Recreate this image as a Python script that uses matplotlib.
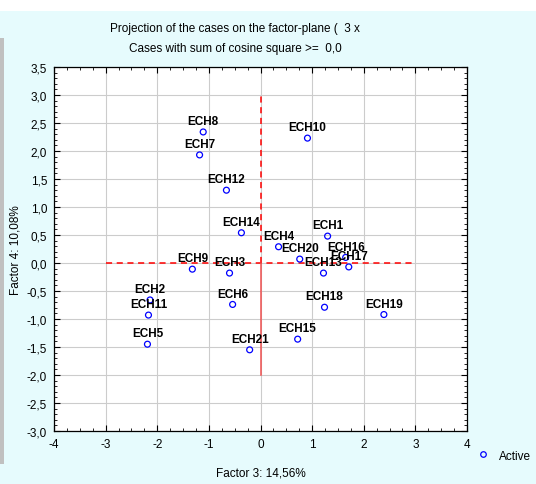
import matplotlib
matplotlib.use("Agg")
import matplotlib.pyplot as plt
from matplotlib.ticker import MultipleLocator, FuncFormatter
from matplotlib.patches import Rectangle
from matplotlib.lines import Line2D

plt.rcParams['font.family'] = ['Liberation Sans', 'DejaVu Sans']

labels = ["ECH1", "ECH2", "ECH3", "ECH4", "ECH5", "ECH6", "ECH7", "ECH8", "ECH9", "ECH10",
          "ECH11", "ECH12", "ECH13", "ECH14", "ECH15", "ECH16", "ECH17", "ECH18", "ECH19",
          "ECH20", "ECH21"]
factor3 = [1.30, -2.14, -0.60, 0.35, -2.19, -0.54, -1.18, -1.11, -1.32, 0.91,
           -2.17, -0.66, 1.22, -0.37, 0.72, 1.65, 1.71, 1.24, 2.39, 0.76, -0.21]
factor4 = [0.48, -0.66, -0.18, 0.29, -1.45, -0.74, 1.93, 2.34, -0.11, 2.23,
           -0.93, 1.30, -0.18, 0.54, -1.36, 0.10, -0.07, -0.79, -0.92, 0.07, -1.55]

fig = plt.figure(figsize=(5.36, 4.85), dpi=100)
bg = '#e6fbfd'
fig.patch.set_facecolor(bg)
# white top strip and gray left strip
fig.patches.append(Rectangle((0, 1 - 12/485), 1, 12/485, transform=fig.transFigure,
                             facecolor='white', edgecolor='none', zorder=0))
fig.patches.append(Rectangle((0, 20/485), 4/536, (456-30)/485, transform=fig.transFigure,
                             facecolor='#c0c0c0', edgecolor='none', zorder=0))

ax = fig.add_axes([54/536, 53/485, (467-54)/536, (432-68)/485])
ax.set_facecolor('white')
ax.set_xlim(-4, 4)
ax.set_ylim(-3.0, 3.5)

ax.xaxis.set_major_locator(MultipleLocator(1))
ax.xaxis.set_minor_locator(MultipleLocator(0.25))
ax.yaxis.set_major_locator(MultipleLocator(0.5))
ax.yaxis.set_minor_locator(MultipleLocator(0.1))
ax.xaxis.set_major_formatter(FuncFormatter(lambda v, p: f"{v:.0f}"))
ax.yaxis.set_major_formatter(FuncFormatter(lambda v, p: f"{v:.1f}".replace('.', ',')))
ax.tick_params(which='both', direction='in', top=True, right=True, labelsize=8.5, colors='black')
ax.tick_params(which='major', length=4, width=0.8, pad=5)
ax.tick_params(which='minor', length=2, width=0.6)
ax.grid(True, which='major', color='#cccccc', linewidth=0.8)
ax.set_axisbelow(True)
for s in ax.spines.values():
    s.set_linewidth(0.9)
    s.set_color('black')

# reference lines
ax.plot([-3, 3], [0, 0], color='red', linestyle=(0, (4, 3)), linewidth=1.1, zorder=2)
ax.plot([0, 0], [0, 3], color='red', linestyle=(0, (4, 3)), linewidth=1.1, zorder=2)
ax.plot([0, 0], [-2, 0], color='#f05050', linestyle='-', linewidth=1.1, zorder=2)

ax.scatter(factor3, factor4, s=18, facecolors='none', edgecolors='blue', linewidths=0.9, zorder=3)
for lab, x, y in zip(labels, factor3, factor4):
    ax.annotate(lab, (x, y), xytext=(0, 3.5), textcoords='offset points', ha='center', va='bottom',
                fontsize=8.5, fontweight='bold', color='black', zorder=4)

ax.set_xlabel("Factor 3: 14,56%", fontsize=8.5, labelpad=12)
ax.set_ylabel("Factor 4: 10,08%", fontsize=8.5, labelpad=4)

fig.text(235/536, 1 - 29/485, "Projection of the cases on the factor-plane (  3 x", ha='center', va='center', fontsize=8.5)
fig.text(235/536, 1 - 49/485, "Cases with sum of cosine square >=  0,0", ha='center', va='center', fontsize=8.5)

# legend outside
fig.lines.append(Line2D([483/536], [1 - 455/485], transform=fig.transFigure, marker='o', markersize=4,
                        markerfacecolor='none', markeredgecolor='blue', markeredgewidth=0.9, linestyle='none'))
fig.text(499/536, 1 - 457/485, "Active", ha='left', va='center', fontsize=8.5)

fig.savefig("out.png", dpi=100, facecolor=fig.get_facecolor())
